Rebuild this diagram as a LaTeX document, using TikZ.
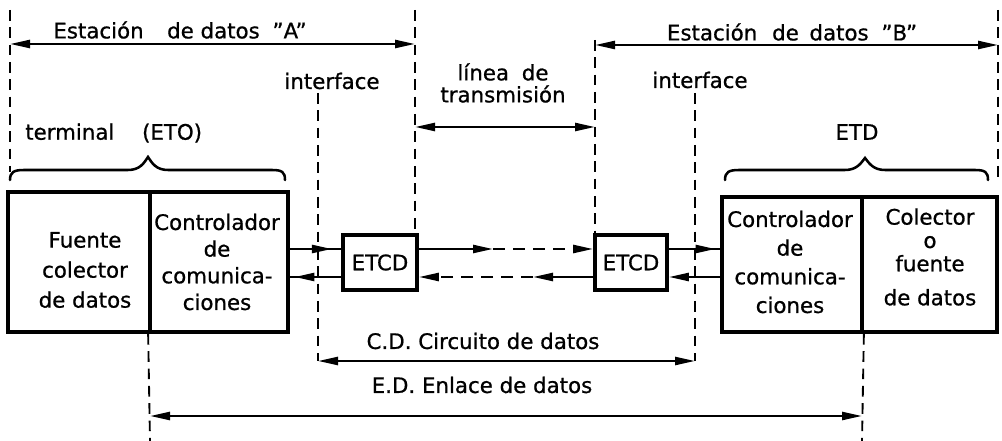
\documentclass[tikz,border=0pt]{standalone}
\usepackage{fontspec}
\setmainfont{DejaVu Sans}[FakeBold=0.8]
\usetikzlibrary{arrows.meta,decorations.markings}
\tikzset{
  headtip/.tip={Triangle[length=15pt,width=6pt]},
}
\begin{document}
\begin{tikzpicture}[x=0.75pt,y=-0.75pt,
  every node/.style={font=\fontsize{16}{20}\selectfont, inner sep=0pt},
  dim/.style={line width=1.8pt, {headtip}-{headtip}},
  guide/.style={line width=1.4pt, dash pattern=on 8pt off 5pt},
  box/.style={draw, line width=2.8pt},
  sig/.style={line width=1.8pt},
  sigdash/.style={line width=1.8pt, dash pattern=on 9pt off 6pt},
  midhead/.style={postaction={decorate, decoration={markings,
      mark=at position #1 with {\arrow{headtip}}}}},
  brace/.style={line width=1.9pt, line cap=round},
  txt/.style={align=center}
]
\useasboundingbox (0,0) rectangle (1002,441);

% ---- boxes ----
\node[box, minimum width=106.5pt, minimum height=105pt] (srcA) at (79,262) {};
\node[box, minimum width=103.5pt, minimum height=105pt] (ctlA) at (219,262) {};
\node[box, minimum width=105pt, minimum height=101.25pt] (ctlB) at (792,264.5) {};
\node[box, minimum width=101.25pt, minimum height=101.25pt] (srcB) at (929.5,264.5) {};
\node[box, minimum width=55.5pt, minimum height=41.25pt] (etcdA) at (380,262.5) {ETCD};
\node[box, minimum width=54pt, minimum height=41.25pt] (etcdB) at (631,262.5) {ETCD};

% ---- box texts ----
\node[txt, font=\fontsize{16}{22.5}\selectfont] (tsrcA) at (85,270) {Fuente\\colector\\de datos};
\node[txt, font=\fontsize{16}{20}\selectfont] (tctlA) at (217,262) {Controlador\\de\\comunica-\\ciones};
\node[txt, font=\fontsize{16}{21.5}\selectfont] (tctlB) at (790,262) {Controlador\\de\\comunica-\\ciones};
\node[txt, font=\fontsize{16}{17.5}\selectfont] (tsrcB) at (930,257) {Colector\\o\\fuente\\[8pt]de datos};

% ---- coordinates ----
\coordinate (ua) at (0,249);
\coordinate (la) at (0,277);
\coordinate (m1) at (493,249);
\coordinate (m2) at (533,277);

\coordinate (gA0t) at (10,10);   \coordinate (gA0b) at (10,172);
\coordinate (gL1t) at (415,10);
\coordinate (gL2t) at (595,40);
\coordinate (gIAt) at (318,93);  \coordinate (gIAb) at (318,361);
\coordinate (gIBt) at (695,93);  \coordinate (gIBb) at (695,361);
\coordinate (gRt) at (998,10);   \coordinate (gRb) at (998,178);
\coordinate (gEAb) at (150,441);
\coordinate (gEBb) at (862,441);

% ---- dashed guides ----
\draw[guide] (gA0t) -- (gA0b);
\draw[guide] (gL1t) -- (etcdA.north -| gL1t);
\draw[guide] (gL2t) -- (etcdB.north -| gL2t);
\draw[guide] (gIAt) -- (gIAb);
\draw[guide] (gIBt) -- (gIBb);
\draw[guide] (gRt) -- (gRb);
\draw[guide] (ctlA.south west) -- (gEAb);
\draw[guide] (ctlB.south east) -- (gEBb);

% ---- dimension arrows ----
\draw[dim] (10,44) coordinate (dA1) -- (415,44) coordinate (dA2);
\draw[dim] (595,45) coordinate (dB1) -- (998,45) coordinate (dB2);
\draw[dim] (415,127) coordinate (dL1) -- (595,127) coordinate (dL2);
\draw[dim] (gIAb) -- (gIBb);
\draw[dim] (150,416) coordinate (dE1) -- (862,416) coordinate (dE2);

% ---- signal connectors ----
\draw[sig, midhead=0.82] (ctlA.east |- ua) -- (etcdA.west |- ua);
\draw[sig, midhead=0.91] (etcdA.west |- la) -- (ctlA.east |- la);
\draw[sig, -{headtip}] (etcdA.east |- ua) -- (m1);
\draw[sigdash, -{headtip}] (m1) -- (etcdB.west |- ua);
\draw[sig, -{headtip}] (etcdB.west |- la) -- (m2);
\draw[sigdash, -{headtip}] (m2) -- (etcdA.east |- la);
\draw[sig, midhead=0.91] (etcdB.east |- ua) -- (ctlB.west |- ua);
\draw[sig, -{headtip}] (ctlB.west |- la) -- (etcdB.east |- la);

% ---- braces ----
\draw[brace] (10,180) .. controls (10,172) and (14,170) .. (24,170) -- (128,170)
  .. controls (140,170) and (144,163) .. (148,157)
  .. controls (152,163) and (156,170) .. (168,170) -- (272,170)
  .. controls (282,170) and (285,172) .. (285,180);
\draw[brace] (725,180) .. controls (725,172) and (729,170) .. (739,170) -- (845,170)
  .. controls (857,170) and (861,163) .. (865,158)
  .. controls (869,163) and (873,170) .. (885,170) -- (975,170)
  .. controls (985,170) and (988,172) .. (988,180);

% ---- labels ----
\node (lA) at (180,30) {Estación\hspace{1.1em}de datos\hspace{0.6em}"A"};
\node (lB) at (792,32) {Estación\hspace{0.7em}de\hspace{0.5em}datos\hspace{0.6em}"B"};
\node (ifA) at (332,81) {interface};
\node (ifB) at (700,80) {interface};
\node[txt, font=\fontsize{16}{16.5}\selectfont] (lin) at (503,83) {línea\hspace{0.6em}de\\transmisión};
\node[anchor=west] (term) at (25,133) {terminal\hspace{1.3em}(ETO)};
\node (etd) at (857,132) {ETD};
\node (cd) at (483,341) {C.D. Circuito de datos};
\node (ed) at (482,385) {E.D. Enlace de datos};
\end{tikzpicture}
\end{document}
